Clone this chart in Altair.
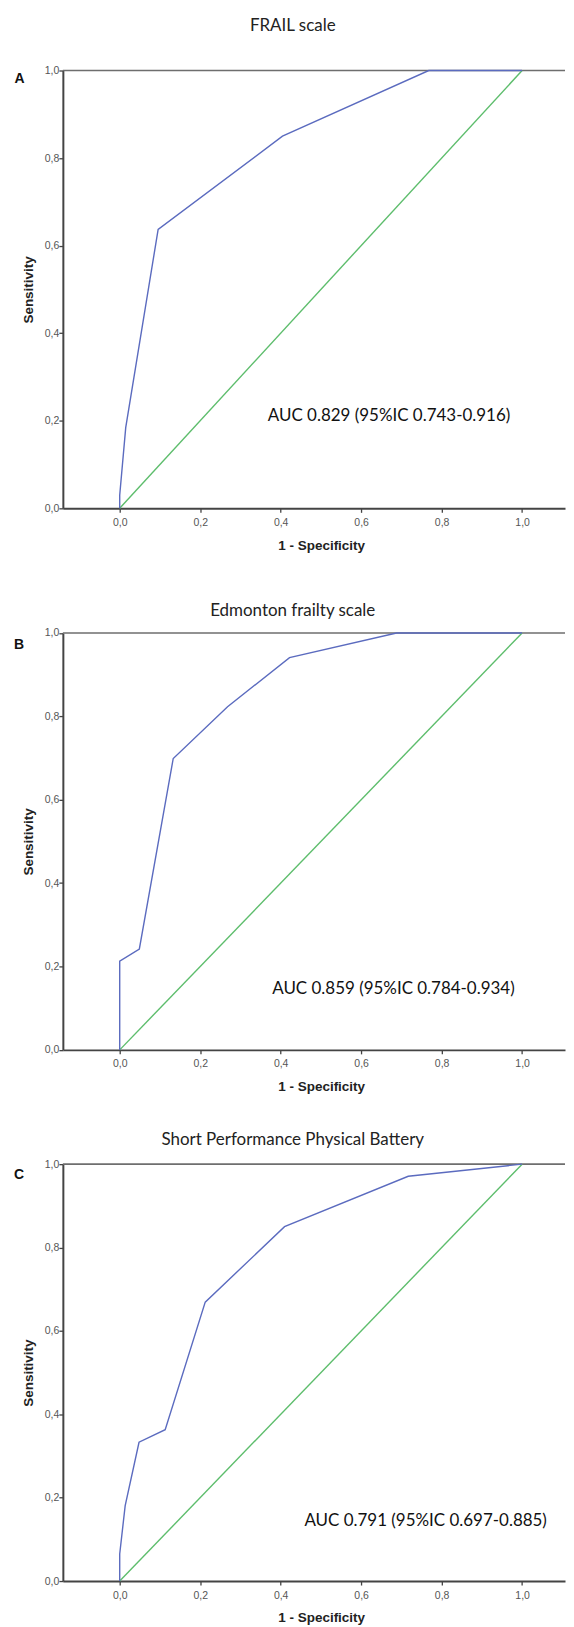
import altair as alt
import pandas as pd

# ---- data ----
fpr_a = [0.0, 0.0, 0.015, 0.0955, 0.4045, 0.768, 1.0]
tpr_a = [0.0, 0.03, 0.185, 0.637, 0.850, 1.0, 1.0]

fpr_b = [0.0, 0.0, 0.0488, 0.133, 0.268, 0.422, 0.688, 1.0]
tpr_b = [0.0, 0.213, 0.242, 0.699, 0.823, 0.941, 1.0, 1.0]

fpr_c = [0.0, 0.0, 0.0136, 0.048, 0.113, 0.2125, 0.4096, 0.717, 1.0]
tpr_c = [0.0, 0.065, 0.181, 0.333, 0.363, 0.669, 0.850, 0.971, 1.0]

ref_fpr = [0.0, 1.0]
ref_tpr = [0.0, 1.0]

titles = ["FRAIL scale", "Edmonton frailty scale", "Short Performance Physical Battery"]
letters = ["A", "B", "C"]
auc_texts = [
    "AUC 0.829 (95%IC 0.743-0.916)",
    "AUC 0.859 (95%IC 0.784-0.934)",
    "AUC 0.791 (95%IC 0.697-0.885)",
]
tick_values = [0.0, 0.2, 0.4, 0.6, 0.8, 1.0]
x_domain = [-0.1413, 1.1066]
y_domain = [0.0, 1.0]

# annotation anchors, in data units
title_x = [0.43, 0.43, 0.43]
title_y = [1.101, 1.053, 1.057]
letter_x = [-0.249, -0.25, -0.25]
letter_y = [0.9795, 0.971, 0.9737]
auc_x = [0.368, 0.379, 0.459]
auc_y = [0.21, 0.146, 0.144]

# ---- styling / layout ----
W = 503.5
plot_h = [439, 418, 418]     # height of the 0..1 data range
top_gap = [0, 10.7, 0]       # extra room above the data range inside each panel
BLUE = "#5b6bbf"
GREEN = "#5dbd6c"
AXIS_COL = "#444444"
LABEL_EXPR = "replace(format(datum.value, '.1f'), '.', ',')"


def panel(k, fpr, tpr):
    h = plot_h[k] + top_gap[k]
    xs = alt.Scale(domain=x_domain, nice=False, zero=False)
    ys = alt.Scale(domain=y_domain, nice=False, zero=False, range=[h, top_gap[k]])
    xaxis = alt.Axis(
        values=tick_values, labelExpr=LABEL_EXPR, title="1 - Specificity",
        labelFont="Liberation Sans", labelFontSize=10.5, labelColor="#555555",
        labelPadding=5, tickSize=4, tickColor=AXIS_COL, tickWidth=1.3,
        domainColor=AXIS_COL, domainWidth=2, grid=False,
        titleFont="Liberation Sans", titleFontSize=13.5, titleFontWeight="bold",
        titleColor="#222222", titleX=259, titleY=37, titleBaseline="middle",
        titleAlign="center",
    )
    yaxis = alt.Axis(
        values=tick_values, labelExpr=LABEL_EXPR, title="Sensitivity",
        labelFont="Liberation Sans", labelFontSize=10.5, labelColor="#555555",
        labelPadding=0, tickSize=4, tickColor=AXIS_COL, tickWidth=1.3,
        domainColor=AXIS_COL, domainWidth=2, grid=False,
        titleFont="Liberation Sans", titleFontSize=13.5, titleFontWeight="bold",
        titleColor="#222222", titleX=-34, titleY=top_gap[k] + plot_h[k] / 2,
        titleAngle=270, titleBaseline="middle", titleAlign="center",
    )
    X = alt.X("fpr:Q", scale=xs, axis=xaxis)
    Y = alt.Y("tpr:Q", scale=ys, axis=yaxis)

    curve_df = pd.DataFrame({"fpr": fpr, "tpr": tpr, "i": list(range(len(fpr)))})
    diag_df = pd.DataFrame({"fpr": ref_fpr, "tpr": ref_tpr, "i": [0, 1]})
    top_df = pd.DataFrame({"tpr": [y_domain[1]]})
    title_df = pd.DataFrame({"fpr": [title_x[k]], "tpr": [title_y[k]], "label": [titles[k]]})
    letter_df = pd.DataFrame({"fpr": [letter_x[k]], "tpr": [letter_y[k]], "label": [letters[k]]})
    auc_df = pd.DataFrame({"fpr": [auc_x[k]], "tpr": [auc_y[k]], "label": [auc_texts[k]]})

    top = alt.Chart(top_df).mark_rule(color="#6e6e6e", strokeWidth=1.6).encode(
        x=alt.value(0), x2=alt.value(W), y=Y
    )
    diag = alt.Chart(diag_df).mark_line(color=GREEN, strokeWidth=1.4).encode(
        x=X, y=Y, order="i:Q"
    )
    curve = alt.Chart(curve_df).mark_line(color=BLUE, strokeWidth=1.4).encode(
        x=X, y=Y, order="i:Q"
    )
    ttl = alt.Chart(title_df).mark_text(
        font="Lato", fontSize=17, color="#222222", align="center", baseline="middle"
    ).encode(x=X, y=Y, text="label:N")
    let = alt.Chart(letter_df).mark_text(
        font="Liberation Sans", fontSize=14, fontWeight="bold", color="#111111",
        align="center", baseline="middle"
    ).encode(x=X, y=Y, text="label:N")
    auc = alt.Chart(auc_df).mark_text(
        font="Lato", fontSize=17, color="#111111", align="left", baseline="middle"
    ).encode(x=X, y=Y, text="label:N")

    return alt.layer(top, diag, curve, ttl, let, auc).properties(width=W, height=h)


pA = panel(0, fpr_a, tpr_a)
pB = panel(1, fpr_b, tpr_b)
pC = panel(2, fpr_c, tpr_c)

chart = (
    alt.vconcat(pA, pB, pC, spacing=114.3, bounds="flush")
    .properties(padding={"left": 6, "top": 6.5, "right": 0, "bottom": 0}, background="white")
    .configure_view(stroke=None)
)

chart.save("out.html", embed_options={"renderer": "svg", "actions": False})
